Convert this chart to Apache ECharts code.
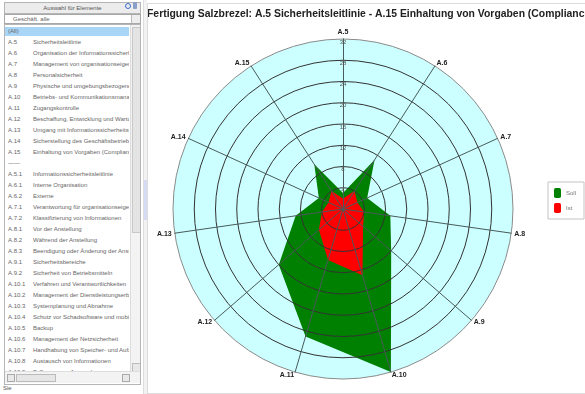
<!DOCTYPE html>
<html>
<head>
<meta charset="utf-8">
<script src="https://cdn.jsdelivr.net/npm/echarts@6/dist/echarts.min.js"></script>
<style>
  html, body { margin: 0; padding: 0; background: #fff; }
  body { width: 585px; height: 394px; position: relative; overflow: hidden;
         font-family: "Liberation Sans", Arial, sans-serif; }
  #panel { position: absolute; left: 0; top: 0; width: 143px; height: 394px; background: #fff; }
  .hdr { position: absolute; left: 4px; top: 2px; width: 135px; height: 10px; background: #ececec;
         border: 1px solid #b5b5b5; font-size: 6px; color: #555; line-height: 10px; text-align: center; }
  .ico1 { position: absolute; left: 125px; top: 3px; width: 4px; height: 4px; border: 1px solid #3a6fd0; border-radius: 50%; }
  .ico2 { position: absolute; left: 133px; top: 2px; width: 4px; height: 7px; background: #8aa0c8; border-radius: 1px; }
  .dd { position: absolute; left: 4px; top: 14px; width: 135px; height: 8px; border: 1px solid #a8a8a8;
        font-size: 6px; color: #666; line-height: 8px; }
  .dd span { position: absolute; left: 8px; }
  .dd i { position: absolute; right: 0; top: 0; width: 8px; height: 8px; background: #eee; border-left: 1px solid #bbb; }
  .list { position: absolute; left: 4px; top: 24px; width: 135px; height: 359px; border: 1px solid #b5b5b5; overflow: hidden; }
  .row { position: absolute; left: 0; height: 9px; width: 124px; font-size: 6px; color: #666; line-height: 9px; white-space: nowrap; overflow: hidden; }
  .row .c { position: absolute; left: 3px; }
  .row .n { position: absolute; left: 28px; }
  .sel { background: #a9d5f7; }
  .vs { position: absolute; left: 125px; top: 0; width: 10px; height: 346px; background: #f3f3f3; border-left: 1px solid #ddd; }
  .vs .th { position: absolute; left: 1px; top: 2px; width: 7px; height: 204px; background: #e4e4e4; border: 1px solid #c8c8c8; }
  .vs .dn { position: absolute; left: 1px; top: 338px; width: 7px; height: 7px; background: #e8e8e8; border: 1px solid #bbb; }
  .hs { position: absolute; left: 0; top: 346px; width: 135px; height: 11px; background: #f3f3f3; border-top: 1px solid #ddd; }
  .hs .l, .hs .r { position: absolute; top: 2px; width: 6px; height: 6px; background: #e8e8e8; border: 1px solid #aaa; }
  .hs .l { left: 2px; } .hs .r { left: 117px; }
  .hs .th { position: absolute; left: 11px; top: 2px; width: 38px; height: 6px; background: #e6e6e6; border: 1px solid #bbb; }
  .foot { position: absolute; left: 3px; top: 385px; font-size: 6px; color: #555; }
  #split { position: absolute; left: 143px; top: 0; width: 3px; height: 394px; background: #f2f2f2; border-left: 1px solid #ddd; }
  #split b { position: absolute; left: 0; top: 180px; width: 3px; height: 40px; background: #d6dcf4; }
  #chartBox { position: absolute; left: 147px; top: 3px; width: 437px; height: 389px; border: 1px solid #dcdcdc; overflow: hidden; }
  #chart { position: absolute; left: 0; top: 0; width: 437px; height: 389px; }
</style>
</head>
<body>
<div id="panel">
  <div class="hdr">Auswahl für Elemente</div>
  <div class="ico1"></div><div class="ico2"></div>
  <div class="dd"><span>Geschäft. alle</span><i></i></div>
  <div class="list" id="list">
    <div class="vs"><div class="th"></div><div class="dn"></div></div>
    <div class="hs"><div class="l"></div><div class="th"></div><div class="r"></div></div>
  </div>
  <div class="foot">Sie</div>
</div>
<div id="split"><b></b></div>
<div id="chartBox"><div id="chart"></div></div>

<script>
// Control areas (ISO 27001 annex) shown on the radar axes, clockwise from the top
const categories = ['A.5', 'A.6', 'A.7', 'A.8', 'A.9', 'A.10', 'A.11', 'A.12', 'A.13', 'A.14', 'A.15'];
// Target (Soll) and actual (Ist) scores per control area
const sollValues = [3, 11, 5, 9, 12, 32, 25, 16, 9, 5, 10];
const istValues = [2, 4, 3, 4, 5, 13, 10, 6, 4, 3, 4];
// Radial scale
const scaleMax = 32;
const scaleStep = 4;

// Entries of the selection list on the left
const areaNames = [
  'Sicherheitsleitlinie', 'Organisation der Informationssicherheit', 'Management von organisationseigenen Werten',
  'Personalsicherheit', 'Physische und umgebungsbezogene Sicherheit', 'Betriebs- und Kommunikationsmanagement',
  'Zugangskontrolle', 'Beschaffung, Entwicklung und Wartung von Informationssystemen',
  'Umgang mit Informationssicherheitsvorfällen', 'Sicherstellung des Geschäftsbetriebs',
  'Einhaltung von Vorgaben (Compliance)'
];
const subCodes = ['A.5.1', 'A.6.1', 'A.6.2', 'A.7.1', 'A.7.2', 'A.8.1', 'A.8.2', 'A.8.3', 'A.9.1', 'A.9.2',
  'A.10.1', 'A.10.2', 'A.10.3', 'A.10.4', 'A.10.5', 'A.10.6', 'A.10.7', 'A.10.8', 'A.10.9'];
const subNames = ['Informationssicherheitsleitlinie', 'Interne Organisation', 'Externe',
  'Verantwortung für organisationseigene Werte', 'Klassifizierung von Informationen', 'Vor der Anstellung',
  'Während der Anstellung', 'Beendigung oder Änderung der Anstellung', 'Sicherheitsbereiche',
  'Sicherheit von Betriebsmitteln', 'Verfahren und Verantwortlichkeiten', 'Management der Dienstleistungserbringung',
  'Systemplanung und Abnahme', 'Schutz vor Schadsoftware und mobilem Code', 'Backup',
  'Management der Netzsicherheit', 'Handhabung von Speicher- und Aufzeichnungsmedien',
  'Austausch von Informationen', 'E-Commerce-Anwendungen'];

// Build the list rows
(function buildList() {
  const list = document.getElementById('list');
  const rows = [['', '(All)', true]];
  categories.forEach((c, i) => rows.push([c, areaNames[i], false]));
  rows.push(['——', '', false]);
  subCodes.forEach((c, i) => rows.push([c, subNames[i], false]));
  const rowH = 11;
  rows.forEach((r, i) => {
    const d = document.createElement('div');
    d.className = 'row' + (r[2] ? ' sel' : '');
    d.style.top = (2 + i * rowH) + 'px';
    d.innerHTML = '<span class="c">' + r[0] + '</span><span class="n">' + r[1] + '</span>';
    if (r[2]) { d.innerHTML = '<span class="c">' + r[1] + '</span>'; }
    list.insertBefore(d, list.firstChild);
  });
})();

// ECharts places radar indicators counter-clockwise; reverse after the first to run clockwise
function clockwise(arr) { return [arr[0]].concat(arr.slice(1).reverse()); }

const indicators = clockwise(categories).map((name) => ({
  name: name, max: scaleMax, min: 0
}));
const labelIndicators = indicators.map((ind, i) => Object.assign({}, ind, {
  axisLabel: { show: i === 0 }
}));

const center = [195, 205];
const radius = 170;
const ringColors = ['#333', '#333', '#333', '#333', '#333', '#333', '#333', '#333', '#8a8a8a'];

const chart = echarts.init(document.getElementById('chart'), null, { renderer: 'canvas' });
chart.setOption({
  animation: false,
  title: {
    text: 'Fertigung Salzbrezel: A.5 Sicherheitsleitlinie - A.15 Einhaltung von Vorgaben (Compliance)',
    left: -1, top: 5, padding: [0, 0, 0, 0],
    textStyle: { fontSize: 10.4, fontWeight: 'bold', color: '#222', fontFamily: 'Liberation Sans' }
  },
  legend: {
    orient: 'vertical', left: 400, top: 178,
    padding: [6, 8, 6, 6], itemGap: 5,
    itemWidth: 7, itemHeight: 10,
    borderColor: '#c4c4c4', borderWidth: 1,
    textStyle: { fontSize: 6, color: '#777' },
    data: ['Soll', 'Ist']
  },
  radar: [
    {
      // cyan disc underneath the series
      center: center, radius: radius, startAngle: 90, shape: 'circle',
      splitNumber: scaleMax / scaleStep, indicator: indicators, z: 0,
      axisName: { show: false },
      splitArea: { show: true, areaStyle: { color: ['#ccffff'] } },
      splitLine: { show: false }, axisLine: { show: false }, axisTick: { show: false }, axisLabel: { show: false }
    },
    {
      // grid lines, names and tick labels drawn above the series
      center: center, radius: radius, startAngle: 90, shape: 'circle',
      splitNumber: scaleMax / scaleStep, indicator: labelIndicators, z: 5,
      axisNameGap: 3,
      axisName: { color: '#222', fontSize: 7, fontWeight: 'bold', fontFamily: 'Liberation Sans' },
      splitArea: { show: false },
      splitLine: { show: true, lineStyle: { color: ringColors, width: 1 } },
      axisLine: { show: true, lineStyle: { color: '#4a5a5a', width: 1 } },
      axisTick: { show: false },
      axisLabel: {
        show: false, showMinLabel: false, margin: 0, align: 'center', verticalAlign: 'top',
        fontSize: 6, color: '#555', rotate: 0
      }
    }
  ],
  series: [{
    type: 'radar', radarIndex: 0, z: 2, symbol: 'none',
    data: [
      { name: 'Soll', value: clockwise(sollValues),
        itemStyle: { color: '#008000' }, lineStyle: { width: 0, color: '#008000' },
        areaStyle: { color: '#008000', opacity: 1 } },
      { name: 'Ist', value: clockwise(istValues),
        itemStyle: { color: '#ff0000' }, lineStyle: { width: 0, color: '#ff0000' },
        areaStyle: { color: '#ff0000', opacity: 1 } }
    ]
  }]
});
</script>
</body>
</html>
